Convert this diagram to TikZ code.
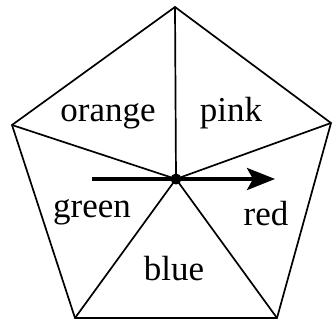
\documentclass[tikz,border=0pt]{standalone}
\usepackage{fontspec}
\setmainfont{Liberation Serif}
\usetikzlibrary{arrows.meta}

\begin{document}
\begin{tikzpicture}[
  x=0.5pt, y=-0.5pt,
  every node/.style={font=\fontsize{17.5}{20}\selectfont},
  rim/.style={draw, line width=0.85pt, line join=miter},
  sector/.style={anchor=base, inner sep=0pt},
  hub/.style={circle, fill, inner sep=0pt, minimum size=5.5pt},
  spin/.style={line width=1.8pt, -{Stealth[length=14pt, width=11pt, inset=3pt]}}
]
\useasboundingbox (0,0) rectangle (332,322);
\coordinate (top) at (175,7);
\coordinate (ur) at (331,123);
\coordinate (lr) at (277,318);
\coordinate (ll) at (75,318);
\coordinate (ul) at (12,125);
\coordinate (c) at (176,179);
\draw[rim] (top) -- (ur) -- (lr) -- (ll) -- (ul) -- cycle;
\foreach \v in {top,ur,lr,ll,ul}
  \draw[rim] (c) -- (\v);
\coordinate (tail) at (92,179);
\coordinate (head) at (275,179);
\draw[spin] (tail) -- (head);
\node[hub] (dot) at (c) {};
\node[sector] (orange) at (108,121) {orange};
\node[sector] (pink) at (231,121) {pink};
\node[sector] (green) at (92,217) {green};
\node[sector] (red) at (266,225) {red};
\node[sector] (blue) at (174,280) {blue};
\end{tikzpicture}
\end{document}
